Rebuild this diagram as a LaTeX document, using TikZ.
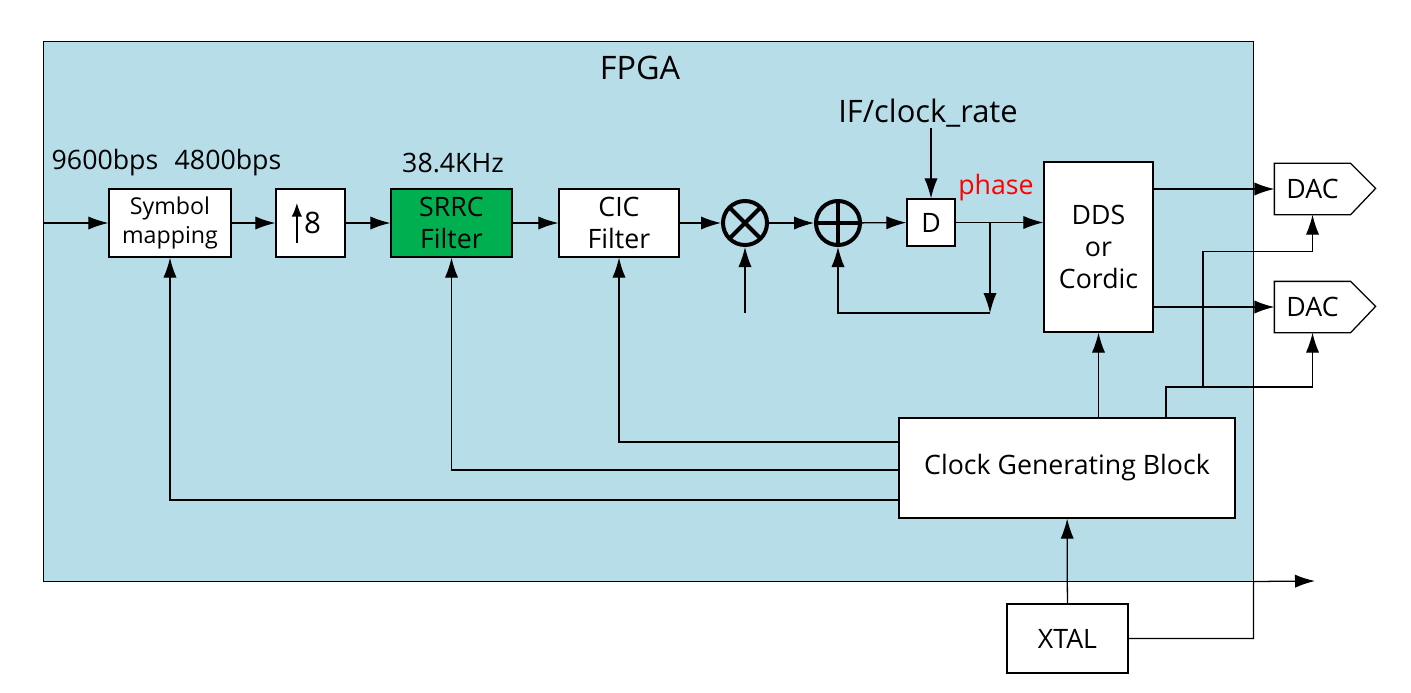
\documentclass[tikz,border=0pt]{standalone}
\usepackage{fontspec}
\setmainfont{Open Sans}
\usetikzlibrary{arrows.meta,calc}
\definecolor{fpgablue}{RGB}{183,221,232}
\definecolor{srrcgreen}{RGB}{0,176,80}
\begin{document}
\begin{tikzpicture}[x=0.025cm,y=-0.025cm,line width=0.9pt,
   >={Latex[length=5mm,width=3.3mm]},
   box/.style={draw,fill=white,inner sep=0pt,align=center,font=\fontsize{19}{23}\selectfont},
   lbl/.style={inner sep=0pt,font=\fontsize{19}{23}\selectfont},
   opcirc/.style={circle,draw,fill=fpgablue,line width=1mm,minimum size=1.1cm,inner sep=0pt},
   ]
   \useasboundingbox (0,0) rectangle (1411,692);
   % FPGA area
   \node[draw,fill=fpgablue,minimum width=30.225cm,minimum height=13.5cm,inner sep=0pt,line width=0.6pt] (fpga) at (648.5,311) {};
   \node[lbl,font=\fontsize{23}{27}\selectfont] (fpgalbl) at (640,68) {FPGA};
   % rate labels
   \node[lbl] (r96) at (105,163) {9600bps};
   \node[lbl] (r48) at (228,163) {4800bps};
   \node[lbl] (r384) at (453,163) {38.4KHz};
   \node[lbl,font=\fontsize{22}{26}\selectfont] (ifr) at (928,113) {IF/clock\_rate};
   \node[lbl,text=red] (phs) at (996,188) {phase};
   % blocks
   \node[box,minimum width=3.05cm,minimum height=1.7cm,font=\fontsize{16.5}{21}\selectfont] (sym) at (170,223) {Symbol\\mapping};
   \node[box,minimum width=1.725cm,minimum height=1.7cm,font=\fontsize{21}{25}\selectfont] (up8) at (310.5,223) {\hspace{0.1cm}8};
   \draw[-{Latex[length=3.4mm,width=2.6mm]}] ([xshift=-0.34cm,yshift=-0.5cm]up8.center) -- ++(0,1cm);
   \node[box,fill=srrcgreen,minimum width=3.025cm,minimum height=1.7cm] (srrc) at (451.5,223) {SRRC\\Filter};
   \node[box,minimum width=3cm,minimum height=1.7cm] (cic) at (619,223) {CIC\\Filter};
   \node[opcirc,path picture={
      \draw[line width=1mm] (path picture bounding box.north west) -- (path picture bounding box.south east)
         (path picture bounding box.south west) -- (path picture bounding box.north east);}] (mult) at (745,223) {};
   \node[opcirc,path picture={
      \draw[line width=1mm] (path picture bounding box.north) -- (path picture bounding box.south)
         (path picture bounding box.west) -- (path picture bounding box.east);}] (add) at (838,223) {};
   \node[box,minimum width=1.2cm,minimum height=1.175cm] (dly) at (931,222.5) {D};
   \node[box,minimum width=2.725cm,minimum height=4.25cm] (dds) at (1098.5,247) {DDS\\or\\Cordic};
   \node[box,draw=none,minimum width=1.875cm,minimum height=1.25cm] (dac1) at (1312.5,189) {DAC};
   \node[box,draw=none,minimum width=1.875cm,minimum height=1.25cm] (dac2) at (1312.5,307) {DAC};
   \foreach \d in {dac1,dac2}
      \draw (\d.north west) -- (\d.north east) -- ++(25,25) -- (\d.south east) -- (\d.south west) -- cycle;
   \node[box,minimum width=8.4cm,minimum height=2.5cm] (cgb) at (1067,468) {Clock Generating Block};
   \node[box,minimum width=3.025cm,minimum height=1.725cm] (xtal) at (1067.5,638.5) {XTAL};
   % free ends
   \coordinate (in) at (44,223);
   \coordinate (fb) at (990,223);
   \coordinate (fbd) at (990,313);
   \coordinate (mlo) at (745,313);
   \coordinate (ck) at (1166,418);
   \coordinate (jn) at (1203,387);
   \coordinate (xo) at (1315,581);
   % signal path
   \draw[->] (in) -- (sym);
   \draw[->] (sym) -- (up8);
   \draw[->] (up8) -- (srrc);
   \draw[->] (srrc) -- (cic);
   \draw[->] (cic) -- (mult);
   \draw[->] (mult) -- (add);
   \draw[->] (add) -- (dly);
   \draw[->] (mlo) -- (mult);
   \draw[->] (ifr.south -| dly) -- (dly);
   \draw[->] (dly) -- (dly -| dds.west);
   \draw[->] (fb) -- (fbd);
   \draw[->] (fbd) -| (add);
   \draw[->] (dds.east |- dac1) -- (dac1.west);
   \draw[->] (dds.east |- dac2) -- (dac2.west);
   % clocks
   \draw[->] (cgb.north -| dds) -- (dds);
   \draw[->] (ck) |- (jn) -| (dac2.south);
   \draw[->] (jn) |- ($(dac1.south)+(0,37)$) -- (dac1.south);
   \draw[->] ([yshift=0.65cm]cgb.west) -| (cic);
   \draw[->] ([yshift=-0.05cm]cgb.west) -| (srrc);
   \draw[->] ([yshift=-0.8cm]cgb.west) -| (sym);
   \draw[->] (xtal) -- (cgb);
   \draw[->] (xtal.east) -| (fpga.south east) -- (xo);
\end{tikzpicture}
\end{document}
